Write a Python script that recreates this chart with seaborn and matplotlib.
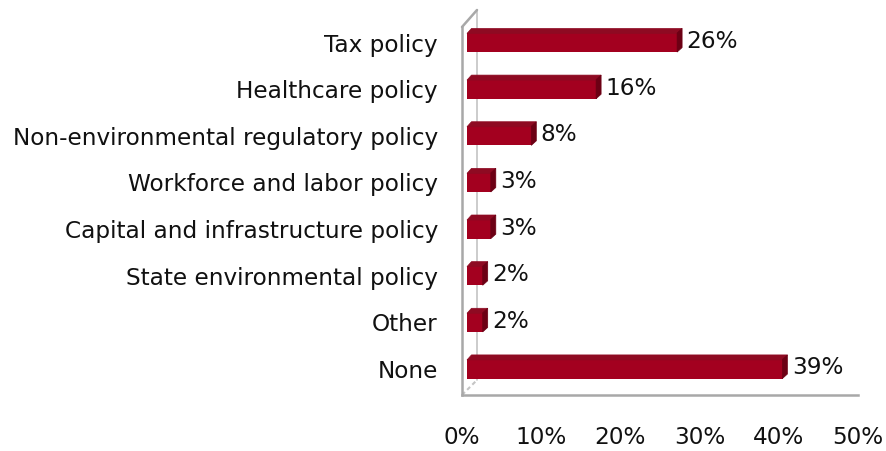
import matplotlib
matplotlib.use("Agg")
import matplotlib.pyplot as plt
from matplotlib.patches import Polygon
from matplotlib.lines import Line2D
import seaborn as sns
import pandas as pd

categories = [
    "Tax policy",
    "Healthcare policy",
    "Non-environmental regulatory policy",
    "Workforce and labor policy",
    "Capital and infrastructure policy",
    "State environmental policy",
    "Other",
    "None",
]
shares = [26, 16, 8, 3, 3, 2, 2, 39]
tick_values = [0, 10, 20, 30, 40, 50]
tick_labels = ["0%", "10%", "20%", "30%", "40%", "50%"]

FRONT = "#A3001F"
TOP = "#8E0A22"
SIDE = "#6C0014"
WALL = "#A8A8A8"
BACK = "#C4C4C4"
TEXT = "#111111"
FS = 16.7

sns.set_style("white")
plt.rcParams["font.family"] = ["DejaVu Sans"]

W, H = 887, 451
fig = plt.figure(figsize=(W / 100, H / 100), dpi=100)


def frac(px_x, px_y):
    """Convert pixel position (origin top-left) to figure fraction."""
    return px_x / W, 1 - px_y / H


# Wall / floor frame with the percentage axis
fx0, fy_floor, fx1, fy_top = 462, 395, 858, 27
frame = fig.add_axes([fx0 / W, 1 - fy_floor / H, (fx1 - fx0) / W, (fy_floor - fy_top) / H])
frame.set_zorder(0)
frame.set_xlim(0, 50)
frame.set_ylim(0, 1)
frame.set_yticks([])
frame.set_xticks(tick_values)
frame.set_xticklabels(tick_labels, fontsize=FS, color=TEXT)
frame.tick_params(axis="x", length=0, pad=22)
for side in ["top", "right"]:
    frame.spines[side].set_visible(False)
for side in ["left", "bottom"]:
    frame.spines[side].set_color(WALL)
    frame.spines[side].set_linewidth(1.8)
frame.patch.set_alpha(0)

# Back wall edges of the 3D frame, drawn inside the frame axes (behind the bars)
depth = 15
pix = frame.transAxes.inverted()
fig.canvas.draw()


def to_frame(px_x, px_y):
    disp = fig.transFigure.transform(frac(px_x, px_y))
    return pix.transform(disp)


b_top = to_frame(fx0 + depth, fy_top - 17)
b_bot = to_frame(fx0 + depth, fy_floor - depth)
f_top = to_frame(fx0, fy_top)
f_bot = to_frame(fx0, fy_floor)
frame.add_line(Line2D([b_top[0], b_bot[0]], [b_top[1], b_bot[1]], color=BACK, lw=1.2,
                      transform=frame.transAxes, clip_on=False))
frame.add_line(Line2D([f_top[0], b_top[0]], [f_top[1], b_top[1]], color=WALL, lw=1.8,
                      transform=frame.transAxes, clip_on=False))
frame.add_line(Line2D([f_bot[0], b_bot[0]], [f_bot[1], b_bot[1]], color=BACK, lw=1.5,
                      ls=(0, (2, 1.5)), transform=frame.transAxes, clip_on=False))

# Bars
ax_left, ax_right = 467, 872
ax_top, ax_bottom = 19.2, 392.3
ax = fig.add_axes([ax_left / W, 1 - ax_bottom / H, (ax_right - ax_left) / W, (ax_bottom - ax_top) / H])
ax.set_zorder(1)
df = pd.DataFrame({"category": categories, "share": shares})
sns.barplot(data=df, x="share", y="category", orient="h", color=FRONT,
            saturation=1, width=0.41, ax=ax, linewidth=0)
ax.set_xlim(0, 50)
ax.set_ylim(len(categories) - 0.5, -0.5)
ax.set_xlabel("")
ax.set_ylabel("")
ax.set_xticks([])
ax.tick_params(axis="y", length=0, pad=21, labelsize=FS, labelcolor=TEXT)
for s in ax.spines.values():
    s.set_visible(False)
ax.patch.set_alpha(0)

# Depth faces for each bar
fig.canvas.draw()
d = 4.5
inv = ax.transData.inverted()
for patch, val in zip(ax.patches, shares):
    bb = patch.get_window_extent()
    x0, x1, y0, y1 = bb.x0, bb.x1, bb.y0, bb.y1
    top = [(x0, y1 - 0.5), (x1, y1 - 0.5), (x1 + d, y1 + d), (x0 + d, y1 + d)]
    right = [(x1 - 0.5, y0), (x1 - 0.5, y1), (x1 + d, y1 + d), (x1 + d, y0 + d)]
    ax.add_patch(Polygon(inv.transform(top), closed=True, facecolor=TOP,
                         edgecolor=TOP, lw=0.5, clip_on=False, zorder=3))
    ax.add_patch(Polygon(inv.transform(right), closed=True, facecolor=SIDE,
                         edgecolor=SIDE, lw=0.5, clip_on=False, zorder=3))
    cy = patch.get_y() + patch.get_height() / 2
    ax.annotate(f"{val}%", xy=(val, cy), xytext=(9, 1), textcoords="offset pixels",
                va="center", ha="left", fontsize=FS, color=TEXT,
                annotation_clip=False)

fig.savefig("out.png", dpi=100)
